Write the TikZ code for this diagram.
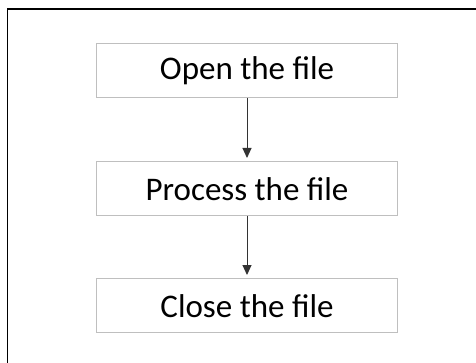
\documentclass[tikz,border=0pt]{standalone}
\usepackage{fontspec}
\setmainfont{Carlito}
\usetikzlibrary{arrows.meta}
\definecolor{boxgray}{HTML}{BFBFBF}
\definecolor{arrowgray}{HTML}{333333}
\begin{document}
\begin{tikzpicture}[x=1pt,y=-1pt,
  stepbox/.style={draw=boxgray, line width=1.4pt, minimum width=301pt, minimum height=54pt, inner sep=0pt, font=\fontsize{33}{40}\selectfont},
  flow/.style={draw=arrowgray, line width=1pt, -{Triangle[length=10pt,width=9pt]}, shorten >=3pt}]
\useasboundingbox (0,0) rectangle (476,363);
\draw[line width=1.8pt] (7.5,363) -- (7.5,8.8) -- (476,8.8);
\node[stepbox] (open) at (247,70.7) {Open the file};
\node[stepbox] (proc) at (247,188.7) {Process the file};
\node[stepbox] (close) at (247,305.7) {Close the file};
\draw[flow] (open) -- (proc);
\draw[flow] (proc) -- (close);
\end{tikzpicture}
\end{document}
